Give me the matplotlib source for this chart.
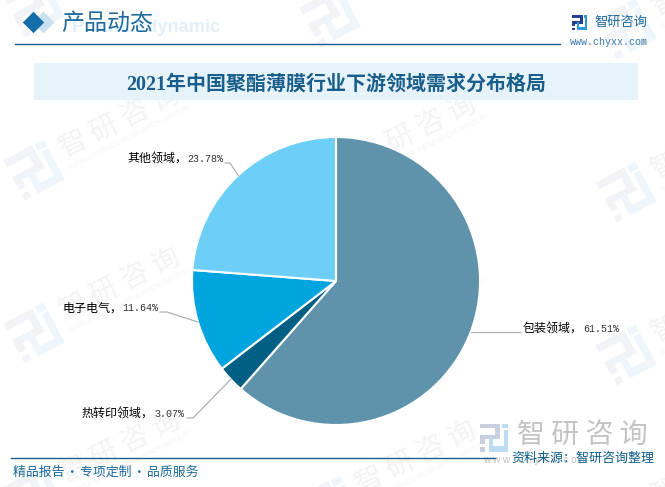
import numpy as np
import matplotlib
matplotlib.use("Agg")
import matplotlib.pyplot as plt
from matplotlib.patches import Polygon, Rectangle

categories = ["包装领域", "热转印领域", "电子电气", "其他领域"]
shares = [61.51, 3.07, 11.64, 23.78]
colors = ["#5F93AB", "#005F84", "#00A4DE", "#6DCFF8"]
title = "2021年中国聚酯薄膜行业下游领域需求分布格局"

W, H = 665, 487
CJK = "Noto Sans CJK SC"
fig = plt.figure(figsize=(W / 100, H / 100), dpi=100, facecolor="white")
bg = fig.add_axes([0, 0, 1, 1], zorder=0)
bg.set_xlim(0, W); bg.set_ylim(H, 0); bg.axis("off")

def px(s):
    return s * 0.72

LEFT_BARS = [(0, 0, .72, .17), (.55, 0, .17, .57), (0, .42, .72, .15), (0, .42, .17, .32), (0, .85, .17, .15)]
RIGHT_BARS = [(.78, 0, .22, .17), (.84, .22, .16, .78), (.33, .82, .67, .18), (.33, .48, .15, .40)]

def logo(ax, cx, cy, s, c1, c2, rot=0, z=1):
    t = np.deg2rad(rot)
    c, sn = np.cos(t), np.sin(t)
    for bars, col in ((LEFT_BARS, c1), (RIGHT_BARS, c2)):
        for bx, by, bw, bh in bars:
            pts = (np.array([[bx, by], [bx + bw, by], [bx + bw, by + bh], [bx, by + bh]]) - .5) * s
            xy = np.c_[cx + pts[:, 0] * c + pts[:, 1] * sn, cy - pts[:, 0] * sn + pts[:, 1] * c]
            ax.add_patch(Polygon(xy, fc=col, ec="none", zorder=z))

# watermarks: logo centres by column
wm_cols = [(34, [7, 170, 333, 496]), (330, [17, 180, 343, 506]), (626, [29, 192, 355, 518])]
for lx, ys in wm_cols:
    for ly in ys:
        if ly < H + 30:
            logo(bg, lx, ly, 45, "#F1F3F7", "#EEF6FB", rot=28)
        tx, ty = lx + 86, ly - 48
        if ty > -20 and ty < H + 20 and tx < W + 60:
            bg.text(tx, ty, "智 研 咨 询", family=CJK, fontsize=px(28), color="#F3F3F3", rotation=26,
                    rotation_mode="anchor", ha="center", va="center", zorder=1)
            bg.text(lx + 96, ly - 32, "INTELLIGENCE RESEARCH GROUP", family="Liberation Sans", fontsize=px(8),
                    color="#F4F4F4", rotation=27, rotation_mode="anchor", ha="center", va="center", zorder=1)

# header
bg.add_patch(Polygon([(43.5, 11.5), (54.5, 22.5), (43.5, 33.5), (32.5, 22.5)], fc="#CBE0EE", ec="none", zorder=2))
bg.add_patch(Polygon([(33.5, 11.8), (44.2, 22.5), (33.5, 33.2), (22.8, 22.5)], fc="#156EA8", ec="none", zorder=3))
bg.text(72, 27.5, "Product dynamic", family="Liberation Sans", weight="bold", fontsize=px(18.3), color="#E3F0F9",
        va="center", ha="left", zorder=2)
bg.text(61, 23.5, "产品动态", family=["Liberation Serif", CJK], fontsize=px(23), color="#1F6A9C", va="center", ha="left", zorder=3)
bg.plot([15, 560], [43.5, 43.5], color="#1B5F8C", lw=1.0, zorder=3)
logo(bg, 579.5, 22.5, 15, "#24408E", "#2E9BD6", z=3)
bg.text(594, 22, "智研咨询", family=CJK, fontsize=px(13.2), color="#1F6A9C", va="center", ha="left", zorder=3)
bg.text(570, 42, "www.chyxx.com", family="Liberation Mono", fontsize=px(10), color="#3F78A5", va="center", ha="left", zorder=3)

# title band
bg.add_patch(Rectangle((34, 63), 604, 37, fc="#E6F3FB", ec="none", zorder=2))
bg.text(336.5, 85, title, family=["Liberation Serif", CJK], weight="bold", fontsize=px(20), color="#1A5F8C",
        va="center", ha="center", zorder=3)

# footer
bg.plot([11, 495], [457.5, 457.5], color="#1B5F8C", lw=1.0, zorder=3)
bg.text(13, 472, "精品报告\u200a·\u200a专项定制\u200a·\u200a品质服务", family=[CJK, "DejaVu Sans"], fontsize=px(12.9),
        color="#1F6A9C", va="center", ha="left", zorder=3)
logo(bg, 494, 437.5, 28, "#C8D0E0", "#BFDDF2", z=2)
bg.text(517, 436, "智 研 咨 询", family=CJK, fontsize=px(28), color="#C4C4C4", va="center", ha="left", zorder=2)
bg.text(483, 460, "w w w . c h y x x . c o m", family="Liberation Sans", fontsize=px(10), color="#C4C4C4", va="center", ha="left", zorder=2)
bg.text(511, 458, "资料来源：智研咨询整理", family=CJK, fontsize=px(13), color="#0F5E8F", va="center", ha="left", zorder=4)

# pie
CX, CY, R = 336, 281, 144
ax = fig.add_axes([(CX - R) / W, (H - CY - R) / H, 2 * R / W, 2 * R / H], zorder=2)
wedges, _ = ax.pie(shares, colors=colors, startangle=90, counterclock=False,
                   wedgeprops=dict(edgecolor="white", linewidth=1.5))
ax.set_xlim(-1, 1); ax.set_ylim(-1, 1)
for w in wedges:
    w.set_clip_on(False)

# label layout: left edge and centre of text, outer end of leader and elbow x
label_layout = {
    "包装领域": (523, 329, 520, None),
    "热转印领域": (82, 414, 187, 193),
    "电子电气": (62, 308, 160, 167),
    "其他领域": (127, 159, 225, 230),
}
lab = fig.add_axes([0, 0, 1, 1], zorder=3)
lab.set_xlim(0, W); lab.set_ylim(H, 0); lab.axis("off"); lab.patch.set_alpha(0)
for w, name, v in zip(wedges, categories, shares):
    tx, ty, ex, elbow = label_layout[name]
    mid = np.deg2rad((w.theta1 + w.theta2) / 2)
    sx, sy = CX + R * np.cos(mid), CY - R * np.sin(mid)
    if elbow is None:
        xs, ys = [sx, ex], [sy, sy]
    else:
        xs, ys = [sx, elbow, ex], [sy, ty + 4, ty + 4]
    lab.plot(xs, ys, color="#B0B0B0", lw=0.9)
    lab.text(tx, ty, f"{name}，", family=CJK, fontsize=px(12), color="black", ha="left", va="center")
    lab.text(tx + 12 * (len(name) + 1), ty, f"{v:.2f}%", family="Liberation Mono", fontsize=px(10),
             color="#333333", ha="left", va="center")

fig.savefig("out.png", dpi=100, facecolor="white")
